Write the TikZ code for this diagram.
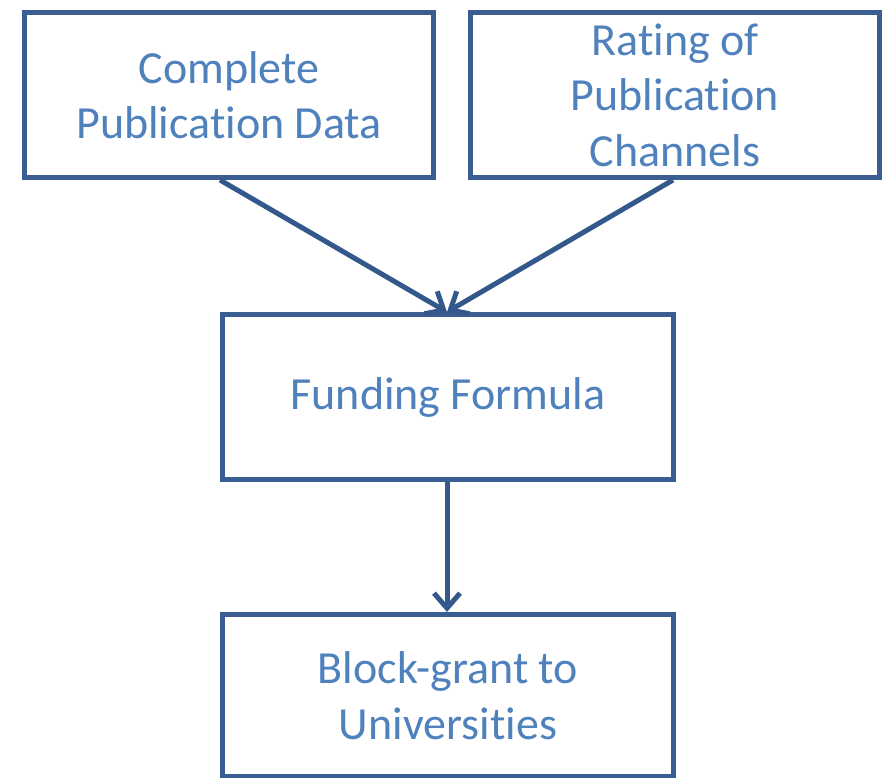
\documentclass[tikz,border=0pt]{standalone}
\usepackage{fontspec}
\setmainfont{Carlito}[Ligatures=NoCommon]
\usetikzlibrary{arrows.meta}
\definecolor{boxline}{HTML}{3A5E91}
\definecolor{arrowline}{HTML}{34588C}
\definecolor{labeltext}{HTML}{4F81BD}
\begin{document}
\begin{tikzpicture}[x=1pt,y=-1pt,
  stagebox/.style={draw=boxline, line width=5pt, rectangle, inner sep=0pt,
    text=labeltext, align=center, font=\fontsize{46}{55.5}\selectfont},
  flow/.style={draw=arrowline, line width=5pt,
    -{Straight Barb[length=15pt,width=26pt,line width=5pt]}}]
  \useasboundingbox (0,0) rectangle (888,778);
  \fill[white] (0,0) rectangle (888,778);

  % input boxes
  \node[stagebox, minimum width=409pt, minimum height=165pt] (data) at (229,95)
    {Complete\\Publication Data};
  \node[stagebox, minimum width=409pt, minimum height=165pt] (rating) at (675,95)
    {Rating of\\Publication\\Channels};

  % formula and outcome
  \node[stagebox, minimum width=451pt, minimum height=165pt] (formula) at (448,397)
    {Funding Formula};
  \node[stagebox, minimum width=451pt, minimum height=162pt] (grant) at (448,695.5)
    {Block-grant to\\Universities};

  % connectors
  \draw[flow] ([xshift=-9pt]data.south) -- ([xshift=-1pt]formula.north);
  \draw[flow] ([xshift=-2pt]rating.south) -- ([xshift=-1pt]formula.north);
  \draw[flow] ([xshift=-1pt]formula.south) -- ([xshift=-1pt]grant.north);
\end{tikzpicture}
\end{document}
